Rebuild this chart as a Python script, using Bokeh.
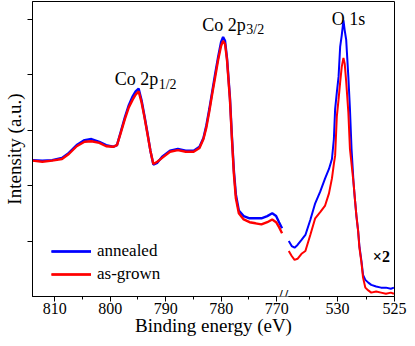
from bokeh.plotting import figure
from bokeh.models import Range1d, FixedTicker, Label, CustomJSTickFormatter
from bokeh.embed import file_html
from bokeh.resources import INLINE

# ---------------- data ----------------
# Co 2p region (binding energy, eV)
co_energy = [814.00, 812.23, 810.46, 808.69, 807.45, 806.04, 804.62, 803.38, 801.96, 800.73,
             799.49, 798.78, 798.07, 797.36, 796.65, 795.95, 795.42, 794.88, 794.35, 793.82,
             793.29, 792.76, 792.23, 791.52, 790.64, 789.22, 787.81, 786.39, 784.97, 783.91,
             783.20, 782.67, 782.14, 781.61, 781.08, 780.55, 780.02, 779.66, 779.31, 778.96,
             778.43, 778.07, 777.72, 777.36, 776.83, 775.95, 774.89, 773.82, 772.76, 771.70,
             770.81, 770.11, 769.58, 769.04]
co_annealed = [2.46, 2.45, 2.46, 2.50, 2.59, 2.73, 2.82, 2.84, 2.79, 2.73,
               2.70, 2.73, 2.98, 3.23, 3.45, 3.61, 3.70, 3.75, 3.54, 3.25,
               2.95, 2.63, 2.38, 2.41, 2.52, 2.63, 2.66, 2.63, 2.63, 2.70,
               2.86, 3.09, 3.38, 3.70, 4.02, 4.32, 4.59, 4.68, 4.61, 4.30,
               3.59, 2.88, 2.27, 1.84, 1.55, 1.45, 1.41, 1.41, 1.41, 1.45,
               1.50, 1.45, 1.34, 1.23]
co_asgrown = [2.45, 2.43, 2.45, 2.48, 2.57, 2.71, 2.79, 2.80, 2.77, 2.71,
              2.70, 2.73, 2.96, 3.20, 3.41, 3.55, 3.64, 3.70, 3.50, 3.23,
              2.93, 2.63, 2.39, 2.43, 2.50, 2.61, 2.64, 2.61, 2.61, 2.68,
              2.84, 3.05, 3.34, 3.66, 3.96, 4.27, 4.52, 4.61, 4.55, 4.27,
              3.55, 2.84, 2.21, 1.77, 1.50, 1.39, 1.34, 1.32, 1.30, 1.34,
              1.39, 1.34, 1.25, 1.14]

# O 1s region (binding energy, eV), shown x2
o_energy = [534.28, 534.02, 533.77, 533.51, 533.16, 532.82, 532.39, 531.96, 531.52, 531.09,
            530.75, 530.49, 530.32, 530.21, 530.06, 529.91, 529.77, 529.63, 529.48, 529.37,
            529.24, 529.05, 528.91, 528.77, 528.59, 528.48, 528.34, 528.19, 528.08, 527.90,
            527.76, 527.56, 527.30, 527.04, 526.61, 526.18, 525.75, 525.32, 525.05]
o_annealed = [1.00, 0.91, 0.88, 0.93, 1.02, 1.11, 1.38, 1.68, 1.89, 2.13,
              2.30, 2.48, 2.84, 3.38, 3.68, 3.96, 4.50, 4.71, 4.98, 4.80,
              4.63, 3.96, 3.38, 2.66, 2.04, 1.77, 1.45, 1.18, 0.91, 0.64,
              0.39, 0.30, 0.25, 0.21, 0.18, 0.16, 0.16, 0.14, 0.16]
o_asgrown = [0.82, 0.73, 0.66, 0.68, 0.77, 0.82, 1.11, 1.41, 1.52, 1.64,
             1.86, 2.13, 2.39, 2.54, 3.25, 3.55, 3.86, 4.14, 4.30, 4.20,
             3.88, 3.32, 2.66, 2.39, 2.04, 1.77, 1.45, 1.18, 0.88, 0.61,
             0.34, 0.16, 0.11, 0.07, 0.09, 0.07, 0.05, 0.07, 0.05]

major_tick_ev = [810, 800, 790, 780, 770, 530, 525]
major_tick_labels = ["810", "800", "790", "780", "770", "530", "525"]
minor_tick_ev = [805, 795, 785, 775, 532.5, 527.5]
y_ticks = [1, 2, 3, 4, 5]

# broken-axis definition: left piece 814 -> 768.9 eV, right piece 534.8 -> 525 eV
LEFT_HI, LEFT_LO = 814.0, 768.9
RIGHT_HI, RIGHT_LO = 534.8, 525.0
RIGHT_STRETCH = 2.053


def to_u(e):
    if e > 650:
        return LEFT_HI - e
    return (LEFT_HI - LEFT_LO) + (RIGHT_HI - e) * RIGHT_STRETCH


FONT = "Liberation Serif"

p = figure(width=407, height=338,
           x_range=Range1d(0, to_u(RIGHT_LO)), y_range=Range1d(0, 5.32),
           output_backend="svg", toolbar_location=None,
           min_border_left=27, min_border_right=13, min_border_top=1, min_border_bottom=0)
p.xgrid.visible = False
p.ygrid.visible = False
p.outline_line_color = "black"
p.outline_line_alpha = 1.0
p.outline_line_width = 1
p.background_fill_color = "white"
p.border_fill_color = "white"

co_u = [to_u(e) for e in co_energy]
o_u = [to_u(e) for e in o_energy]

BLUE = "#0000ff"
RED = "#ff0000"
p.line(co_u, co_annealed, line_color=BLUE, line_width=2.4, legend_label="annealed")
p.line(o_u, o_annealed, line_color=BLUE, line_width=2.0, legend_label="annealed")
p.line(co_u, co_asgrown, line_color=RED, line_width=2.4, legend_label="as-grown")
p.line(o_u, o_asgrown, line_color=RED, line_width=2.0, legend_label="as-grown")

# x axis
major_u = [to_u(e) for e in major_tick_ev]
minor_u = [to_u(e) for e in minor_tick_ev]
xa = p.xaxis[0]
xa.ticker = FixedTicker(ticks=major_u, minor_ticks=minor_u)
xa.formatter = CustomJSTickFormatter(args=dict(pos=major_u, lab=major_tick_labels), code="""
let best = ''; let d = 1e9;
for (let i = 0; i < pos.length; i++) { const dd = Math.abs(pos[i] - tick); if (dd < d) { d = dd; best = lab[i]; } }
return d < 1e-6 ? best : '';
""")
xa.axis_label = "Binding energy (eV)"
xa.axis_label_text_font = FONT
xa.axis_label_text_font_style = "normal"
xa.axis_label_text_font_size = "19px"
xa.axis_label_text_color = "black"
xa.axis_label_standoff = -2
xa.major_label_text_font = FONT
xa.major_label_text_font_size = "16px"
xa.major_label_text_color = "black"
xa.major_label_standoff = 1
xa.major_tick_in = 0
xa.major_tick_out = 5
xa.minor_tick_in = 0
xa.minor_tick_out = 3
xa.axis_line_color = "black"
xa.major_tick_line_color = "black"
xa.minor_tick_line_color = "black"

# y axis (ticks without numbers)
ya = p.yaxis[0]
ya.ticker = FixedTicker(ticks=y_ticks, minor_ticks=[])
ya.formatter = CustomJSTickFormatter(code="return '';")
ya.axis_label = "Intensity (a.u.)"
ya.axis_label_text_font = FONT
ya.axis_label_text_font_style = "normal"
ya.axis_label_text_font_size = "19px"
ya.axis_label_text_color = "black"
ya.axis_label_standoff = 3
ya.major_label_text_font = FONT
ya.major_label_text_font_size = "10px"
ya.major_label_standoff = 0
ya.major_tick_in = 0
ya.major_tick_out = 5
ya.minor_tick_line_color = None
ya.axis_line_color = "black"


# peak annotations
def add_text(x, y, text, size="18px", dx=0, dy=0, style="normal"):
    p.add_layout(Label(x=x, y=y, text=text, x_offset=dx, y_offset=dy,
                       text_font=FONT, text_font_size=size, text_font_style=style,
                       text_color="black", text_align="left", text_baseline="alphabetic"))


add_text(to_u(799.2), 3.92, "Co 2p")
add_text(to_u(799.2), 3.92, "1/2", size="14px", dx=44, dy=-5)
add_text(to_u(783.4), 4.90, "Co 2p")
add_text(to_u(783.4), 4.90, "3/2", size="14px", dx=44, dy=-5)
add_text(to_u(530.5), 5.00, "O 1s")
add_text(to_u(526.9), 0.72, "\u00d72", size="16px", style="bold")

# axis break mark
p.add_layout(Label(x=(to_u(LEFT_LO) + to_u(RIGHT_HI)) / 2, y=0, text="//",
                   text_font=FONT, text_font_size="20px", text_color="black",
                   text_align="center", text_baseline="middle",
                   background_fill_color="white", background_fill_alpha=1.0))

# legend
lg = p.legend[0]
lg.location = (19, 12)
lg.border_line_color = None
lg.background_fill_alpha = 0
lg.padding = 0
lg.margin = 0
lg.spacing = 3
lg.glyph_width = 40
lg.glyph_height = 20
lg.label_height = 20
lg.label_standoff = 6
lg.label_text_font = FONT
lg.label_text_font_size = "17px"
lg.label_text_color = "black"

open("out.html", "w").write(file_html(p, INLINE))
